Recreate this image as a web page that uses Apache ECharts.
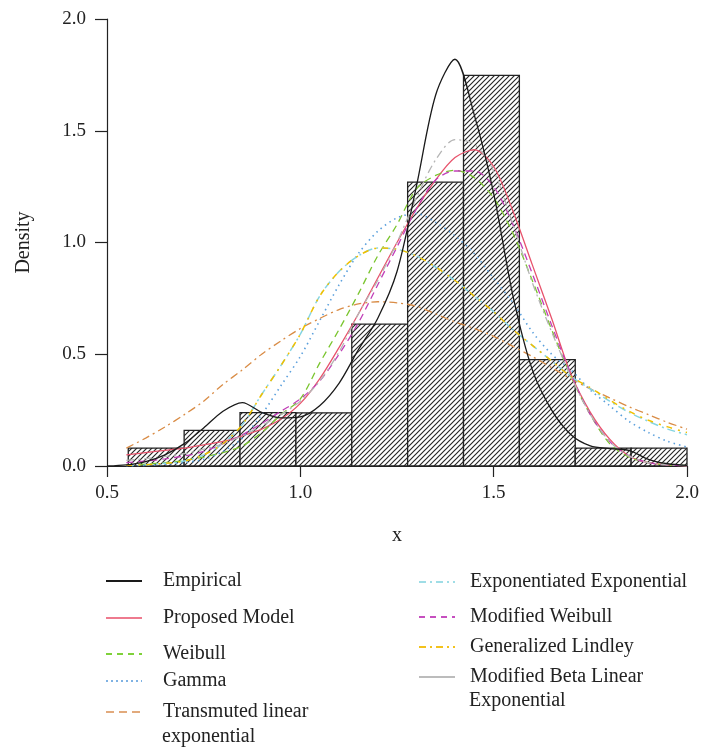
<!DOCTYPE html>
<html>
<head>
<meta charset="utf-8">
<script src="https://cdn.jsdelivr.net/npm/echarts@6/dist/echarts.min.js"></script>
<style>
html, body { margin: 0; padding: 0; background: #fff; }
#chart { width: 703px; height: 753px; }
</style>
</head>
<body>
<div id="chart"></div>
<script>
// histogram
var breaks = [0.555, 0.6995, 0.844, 0.9885, 1.133, 1.2775, 1.422, 1.5665, 1.711, 1.8555, 2.0];
var density = [0.08, 0.159, 0.239, 0.238, 0.635, 1.27, 1.748, 0.476, 0.08, 0.08];

// x grid for fitted curves
var xs = [0.55, 0.60, 0.65, 0.70, 0.75, 0.80, 0.85, 0.90, 0.95, 1.00,
          1.05, 1.10, 1.15, 1.20, 1.25, 1.30, 1.35, 1.40, 1.45, 1.50,
          1.55, 1.60, 1.65, 1.70, 1.75, 1.80, 1.85, 1.90, 1.95, 2.00];

// empirical density (own grid, starts at 0.5)
var empX = [0.50, 0.55, 0.60, 0.65, 0.70, 0.75, 0.80, 0.85, 0.90, 0.95, 1.00,
            1.05, 1.10, 1.15, 1.20, 1.25, 1.30, 1.35, 1.40, 1.45, 1.50,
            1.55, 1.60, 1.65, 1.70, 1.75, 1.80, 1.85, 1.90, 1.95, 2.00];
var empirical = [0.0, 0.005, 0.02, 0.05, 0.10, 0.17, 0.245, 0.284, 0.24, 0.215, 0.22,
                 0.27, 0.37, 0.52, 0.66, 0.87, 1.25, 1.66, 1.82, 1.57, 1.22,
                 0.76, 0.43, 0.25, 0.14, 0.09, 0.078, 0.07, 0.03, 0.01, 0.003];

var proposed = [0.05, 0.06, 0.07, 0.08, 0.095, 0.11, 0.135, 0.165, 0.21, 0.28,
                0.39, 0.53, 0.68, 0.84, 1.0, 1.15, 1.28, 1.38, 1.415, 1.34,
                1.14, 0.90, 0.66, 0.41, 0.24, 0.12, 0.045, 0.015, 0.005, 0.001];
var weibull = [0.004, 0.008, 0.015, 0.025, 0.04, 0.06, 0.09, 0.15, 0.23, 0.30,
               0.46, 0.61, 0.77, 0.94, 1.08, 1.24, 1.30, 1.323, 1.29, 1.20,
               1.04, 0.83, 0.61, 0.40, 0.23, 0.10, 0.04, 0.015, 0.005, 0.002];
var gamma = [0.001, 0.003, 0.008, 0.015, 0.03, 0.065, 0.125, 0.23, 0.36, 0.49,
             0.65, 0.81, 0.95, 1.05, 1.11, 1.13, 1.09, 1.03, 0.95, 0.84,
             0.73, 0.60, 0.50, 0.43, 0.34, 0.27, 0.20, 0.15, 0.11, 0.085];
var transmuted = [0.08, 0.125, 0.175, 0.23, 0.29, 0.365, 0.43, 0.50, 0.56, 0.615,
                  0.66, 0.70, 0.725, 0.735, 0.73, 0.715, 0.68, 0.645, 0.615, 0.58,
                  0.535, 0.49, 0.44, 0.39, 0.345, 0.305, 0.265, 0.23, 0.195, 0.165];
var expExp = [0.003, 0.006, 0.012, 0.022, 0.05, 0.10, 0.185, 0.32, 0.45, 0.59,
              0.76, 0.87, 0.94, 0.975, 0.97, 0.94, 0.89, 0.83, 0.76, 0.69,
              0.61, 0.54, 0.47, 0.40, 0.345, 0.29, 0.24, 0.20, 0.165, 0.14];
var modWeibull = [0.015, 0.022, 0.032, 0.045, 0.065, 0.10, 0.14, 0.19, 0.245, 0.30,
                  0.38, 0.50, 0.64, 0.81, 0.98, 1.15, 1.28, 1.32, 1.32, 1.25,
                  1.08, 0.86, 0.63, 0.41, 0.23, 0.11, 0.045, 0.015, 0.005, 0.001];
var genLindley = [0.003, 0.006, 0.012, 0.022, 0.05, 0.10, 0.185, 0.32, 0.45, 0.59,
                  0.76, 0.87, 0.94, 0.975, 0.97, 0.94, 0.89, 0.83, 0.76, 0.69,
                  0.61, 0.54, 0.47, 0.40, 0.35, 0.295, 0.245, 0.205, 0.175, 0.15];
var modBeta = [0.025, 0.033, 0.043, 0.055, 0.075, 0.10, 0.135, 0.18, 0.23, 0.29,
               0.38, 0.51, 0.68, 0.83, 1.0, 1.2, 1.37, 1.46, 1.44, 1.32,
               1.08, 0.82, 0.60, 0.40, 0.23, 0.11, 0.045, 0.015, 0.005, 0.001];

var serif = '"Liberation Serif", "DejaVu Serif", serif';

function pairs(xv, yv) {
    return xv.map(function (x, i) { return [x, yv[i]]; });
}

// diagonal hatching for the bars
function makeHatch() {
    var c = document.createElement('canvas');
    c.width = 5; c.height = 5;
    var g = c.getContext('2d');
    g.fillStyle = '#fff';
    g.fillRect(0, 0, 5, 5);
    g.strokeStyle = '#262626';
    g.lineWidth = 1.15;
    g.beginPath();
    g.moveTo(-1, 6); g.lineTo(6, -1);
    g.moveTo(-1, 1); g.lineTo(1, -1);
    g.moveTo(4, 6); g.lineTo(6, 4);
    g.stroke();
    return c;
}
var hatch = makeHatch();

// legendType / legendColor: how the key sample is drawn under the plot
var curves = [
    { name: 'Empirical', x: empX, y: empirical, color: '#1a1a1a', type: 'solid', width: 1.3, legendType: 'solid', legendColor: '#1a1a1a' },
    { name: 'Proposed Model', x: xs, y: proposed, color: '#e8536c', type: 'solid', width: 1.3, legendType: 'solid', legendColor: '#ee7a8e' },
    { name: 'Weibull', x: xs, y: weibull, color: '#7ac52e', type: [7, 5], width: 1.3, legendType: [6, 5], legendColor: '#7fd13a' },
    { name: 'Gamma', x: xs, y: gamma, color: '#5a9fdc', type: [1.5, 4], width: 1.6, legendType: [2, 3], legendColor: '#7fb2e3' },
    { name: 'Transmuted linear\nexponential', x: xs, y: transmuted, color: '#d98c46', type: [8, 4, 2, 4], width: 1.3, legendType: [8, 5], legendColor: '#e2aa7c' },
    { name: 'Exponentiated Exponential', x: xs, y: expExp, color: '#86d5e2', type: [8, 4, 2, 4], width: 1.5, legendType: [7, 4, 2, 4], legendColor: '#9fdde6' },
    { name: 'Modified Weibull', x: xs, y: modWeibull, color: '#c13fb8', type: [7, 5], width: 1.3, legendType: [6, 5], legendColor: '#c64fbf' },
    { name: 'Generalized Lindley', x: xs, y: genLindley, color: '#f0c000', type: [6, 6, 2, 6], width: 1.5, legendType: [7, 4, 2, 4], legendColor: '#f3c21c' },
    { name: 'Modified Beta Linear\nExponential', x: xs, y: modBeta, color: '#b5b5b5', type: [8, 4, 2, 4], width: 1.3, legendType: 'solid', legendColor: '#bcbcbc' }
];

var series = [{
    type: 'custom',
    name: 'hist',
    silent: true,
    z: 1,
    data: density.map(function (d, i) { return [breaks[i], breaks[i + 1], d]; }),
    encode: { x: [0, 1], y: 2 },
    renderItem: function (params, api) {
        var p0 = api.coord([api.value(0), api.value(2)]);
        var p1 = api.coord([api.value(1), 0]);
        return {
            type: 'rect',
            shape: { x: p0[0], y: p0[1], width: p1[0] - p0[0], height: p1[1] - p0[1] },
            style: { fill: { image: hatch, repeat: 'repeat' }, stroke: '#222', lineWidth: 1.3 }
        };
    }
}];

curves.forEach(function (c, i) {
    series.push({
        type: 'line',
        name: c.name,
        data: pairs(c.x, c.y),
        symbol: 'none',
        showSymbol: false,
        smooth: 0.3,
        z: 3 + (i === 0 ? 9 : i),
        color: c.color,
        lineStyle: { color: c.color, width: c.width, type: c.type }
    });
});

// one legend per entry so every row sits where the reference has it
var legendPos = [
    { left: 105, top: 569, pad: 16 },
    { left: 105, top: 606, pad: 16 },
    { left: 105, top: 642, pad: 16 },
    { left: 105, top: 669, pad: 16 },
    { left: 105, top: 700, pad: 16 },
    { left: 418, top: 570, pad: 10 },
    { left: 418, top: 605, pad: 10 },
    { left: 418, top: 635, pad: 10 },
    { left: 418, top: 665, pad: 10 }
];
var legends = curves.map(function (c, i) {
    var p = legendPos[i];
    return {
        data: [c.name],
        left: p.left,
        top: p.top,
        orient: 'vertical',
        padding: 0,
        itemWidth: 36,
        itemHeight: 14,
        selectedMode: false,
        itemStyle: { opacity: 0, borderWidth: 0 },
        lineStyle: { color: c.legendColor, type: c.legendType, width: 2 },
        formatter: function (name) { return name.split('\n')[0]; },
        textStyle: { fontFamily: serif, fontSize: 20, color: '#222', lineHeight: 24, padding: [0, 0, 0, p.pad] }
    };
});

var chart = echarts.init(document.getElementById('chart'));
chart.setOption({
    backgroundColor: '#fff',
    animation: false,
    grid: { left: 107, right: 16, top: 19, bottom: 287 },
    xAxis: {
        type: 'value',
        min: 0.5,
        max: 2.0,
        interval: 0.5,
        name: 'x',
        nameLocation: 'middle',
        nameGap: 60,
        nameTextStyle: { fontFamily: serif, fontSize: 20, color: '#222' },
        splitLine: { show: false },
        axisLine: { lineStyle: { color: '#222', width: 1.2 } },
        axisTick: { inside: false, length: 11, lineStyle: { color: '#222', width: 1.2 } },
        axisLabel: { margin: 18, fontFamily: serif, fontSize: 19, color: '#222', formatter: function (v) { return v.toFixed(1); } }
    },
    yAxis: {
        type: 'value',
        min: 0,
        max: 2.0,
        interval: 0.5,
        name: 'Density',
        nameLocation: 'middle',
        nameRotate: 90,
        nameGap: 73,
        nameTextStyle: { fontFamily: serif, fontSize: 20, color: '#222' },
        splitLine: { show: false },
        axisLine: { show: true, lineStyle: { color: '#222', width: 1.2 } },
        axisTick: { show: true, inside: false, length: 12, lineStyle: { color: '#222', width: 1.2 } },
        axisLabel: { margin: 21, fontFamily: serif, fontSize: 19, color: '#222', formatter: function (v) { return v.toFixed(1); } }
    },
    legend: legends,
    graphic: [
        { type: 'text', left: 162, top: 727, style: { text: 'exponential', font: '20px ' + serif, fill: '#222' } },
        { type: 'text', left: 469, top: 691, style: { text: 'Exponential', font: '20px ' + serif, fill: '#222' } }
    ],
    series: series
});
</script>
</body>
</html>
